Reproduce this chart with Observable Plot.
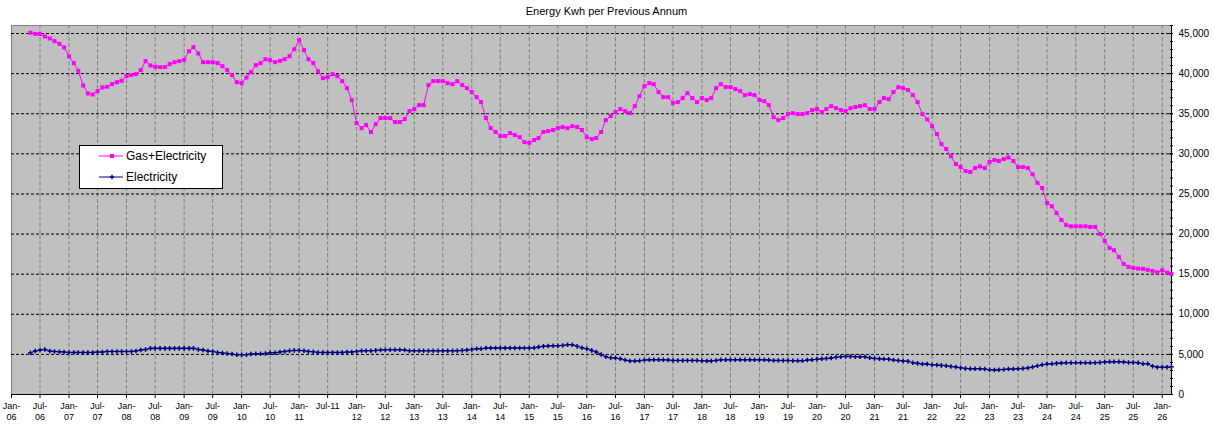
<!DOCTYPE html>
<html><head><meta charset="utf-8">
<script src="https://cdn.jsdelivr.net/npm/d3@7"></script>
<script src="https://cdn.jsdelivr.net/npm/@observablehq/plot@0.6"></script>
<style>
body{margin:0;background:#fff;font-family:"Liberation Sans",Arial,sans-serif;}
#wrap{position:relative;width:1213px;height:428px;}
#title{position:absolute;top:4px;left:0;width:1213px;text-align:center;font-size:11px;line-height:14px;color:#000;}
#legend{position:absolute;left:79px;top:145px;width:142px;height:42px;border:1px solid #000;background:#fff;}
.row{position:absolute;left:19px;height:14px;display:flex;align-items:center;font-size:12px;color:#000;white-space:nowrap;}
.row svg{margin-right:3px;}
</style>
</head><body>
<div id="wrap">
<div id="chart"></div>
<div id="title">Energy Kwh per Previous Annum</div>
<div id="legend">
  <div class="row" style="top:3px"><svg width="24" height="10"><line x1="0" y1="5" x2="24" y2="5" stroke="#ff00ff" stroke-width="1"/><rect x="11" y="3" width="4" height="4" fill="#ff00ff"/></svg>Gas+Electricity</div>
  <div class="row" style="top:24px"><svg width="24" height="10"><line x1="0" y1="5" x2="24" y2="5" stroke="#000080" stroke-width="1"/><path d="M12.3,2.8h1.4v1.5h1.5v1.4h-1.5v1.5h-1.4v-1.5h-1.5v-1.4h1.5z" fill="#000080"/></svg>Electricity</div>
</div>
</div>
<script>
// Monthly series, first value = May 2006, last value = Mar 2026
const startYear = 2006, startMonth = 4; // May (0-based)
const gasElectricity = [
  // 2006 May-Dec
  45100, 44950, 44950, 44630, 44380, 44050, 43710, 43260,
  // 2007
  42180, 41300, 40350, 38530, 37530, 37400, 37820, 38280, 38360, 38690, 38940, 39110,
  // 2008
  39690, 39810, 39940, 40440, 41560, 41020, 40850, 40810, 40810, 41180, 41430, 41560,
  // 2009
  41720, 42800, 43300, 42510, 41430, 41430, 41430, 41310, 40930, 40440, 39810, 38940,
  // 2010
  38820, 39520, 40190, 41060, 41310, 41800, 41680, 41430, 41600, 41800, 42180, 43050,
  // 2011
  44170, 42930, 41800, 41310, 40310, 39440, 39560, 39940, 39690, 39070, 38190, 36700,
  // 2012
  33840, 33210, 33590, 32720, 33710, 34460, 34460, 34460, 33960, 33960, 34330, 35330,
  // 2013
  35580, 36080, 36080, 38570, 39070, 39070, 39070, 38820, 38690, 39070, 38570, 38190,
  // 2014
  37700, 37070, 36450, 34460, 33210, 32720, 32220, 32220, 32590, 32340, 32090, 31470,
  // 2015
  31350, 31720, 31970, 32720, 32840, 32970, 33210, 33340, 33210, 33460, 33340, 32970,
  // 2016
  32090, 31840, 31970, 32720, 34210, 34710, 35210, 35580, 35330, 35080, 35950, 37200,
  // 2017
  38440, 38820, 38690, 37700, 37070, 37070, 36330, 36450, 36950, 37570, 36950, 36450,
  // 2018
  36950, 36700, 36950, 38190, 38690, 38320, 38320, 38070, 37820, 37320, 37450, 37320,
  // 2019
  36700, 36570, 36080, 34580, 34210, 34460, 34960, 35080, 34960, 34960, 35080, 35450,
  // 2020
  35580, 35210, 35580, 35950, 35700, 35450, 35330, 35700, 35830, 35950, 36080, 35580,
  // 2021
  35580, 36450, 36950, 36820, 37700, 38320, 38190, 37950, 37320, 36450, 34960, 34290,
  // 2022
  33460, 32470, 31220, 30600, 29690, 28730, 28360, 27860, 27740, 28230, 28440, 28230,
  // 2023
  28980, 29230, 29110, 29350, 29560, 29110, 28360, 28360, 28230, 27450, 26370, 25740,
  // 2024
  23870, 23460, 22630, 21760, 21140, 20970, 20970, 20970, 20970, 20890, 20890, 20020,
  // 2025
  19150, 18270, 17980, 17150, 16280, 15910, 15780, 15700, 15660, 15540, 15410, 15240,
  // 2026 Jan-Mar
  15490, 15200, 15040
];
const electricity = [
  // 2006 May-Dec
  5210, 5420, 5540, 5620, 5420, 5370, 5330, 5290,
  // 2007
  5250, 5250, 5250, 5250, 5250, 5250, 5290, 5290, 5370, 5370, 5370, 5370,
  // 2008
  5370, 5370, 5420, 5540, 5620, 5750, 5750, 5750, 5750, 5750, 5750, 5750,
  // 2009
  5750, 5750, 5750, 5620, 5540, 5420, 5370, 5250, 5170, 5120, 5040, 4960,
  // 2010
  4960, 4960, 5040, 5080, 5080, 5120, 5210, 5210, 5290, 5370, 5460, 5500,
  // 2011
  5500, 5460, 5370, 5330, 5250, 5250, 5250, 5250, 5250, 5250, 5290, 5290,
  // 2012
  5370, 5460, 5460, 5460, 5500, 5540, 5580, 5580, 5580, 5580, 5540, 5460,
  // 2013
  5460, 5460, 5460, 5460, 5460, 5460, 5460, 5460, 5460, 5460, 5500, 5540,
  // 2014
  5620, 5710, 5710, 5790, 5790, 5790, 5790, 5790, 5790, 5790, 5790, 5790,
  // 2015
  5790, 5830, 5920, 6000, 6040, 6080, 6080, 6120, 6210, 6210, 6000, 5830,
  // 2016
  5710, 5500, 5290, 5000, 4710, 4580, 4540, 4460, 4290, 4170, 4170, 4210,
  // 2017
  4290, 4330, 4330, 4330, 4330, 4290, 4250, 4250, 4250, 4250, 4250, 4250,
  // 2018
  4210, 4170, 4170, 4250, 4330, 4330, 4330, 4330, 4330, 4330, 4330, 4330,
  // 2019
  4330, 4330, 4290, 4250, 4250, 4250, 4250, 4210, 4210, 4210, 4290, 4330,
  // 2020
  4380, 4460, 4500, 4540, 4630, 4710, 4750, 4750, 4710, 4710, 4710, 4580,
  // 2021
  4500, 4460, 4420, 4380, 4290, 4250, 4170, 4130, 3960, 3880, 3790, 3790,
  // 2022
  3710, 3670, 3630, 3580, 3500, 3420, 3340, 3250, 3210, 3210, 3210, 3170,
  // 2023
  3080, 3040, 3080, 3120, 3170, 3170, 3210, 3250, 3290, 3420, 3580, 3710,
  // 2024
  3790, 3830, 3880, 3920, 3960, 3960, 3960, 3960, 3960, 3960, 3960, 4000,
  // 2025
  4040, 4080, 4080, 4080, 4040, 4000, 4000, 3960, 3830, 3830, 3530, 3410,
  // 2026 Jan-Mar
  3410, 3410, 3450
];
const xTickLabels = [
  "Jan-\n06","Jul-\n06","Jan-\n07","Jul-\n07","Jan-\n08","Jul-\n08","Jan-\n09","Jul-\n09",
  "Jan-\n10","Jul-\n10","Jan-\n11","Jul-11","Jan-\n12","Jul-\n12","Jan-\n13","Jul-\n13",
  "Jan-\n14","Jul-\n14","Jan-\n15","Jul-\n15","Jan-\n16","Jul-\n16","Jan-\n17","Jul-\n17",
  "Jan-\n18","Jul-\n18","Jan-\n19","Jul-\n19","Jan-\n20","Jul-\n20","Jan-\n21","Jul-\n21",
  "Jan-\n22","Jul-\n22","Jan-\n23","Jul-\n23","Jan-\n24","Jul-\n24","Jan-\n25","Jul-\n25",
  "Jan-\n26"
];
const yTicks = [0, 5000, 10000, 15000, 20000, 25000, 30000, 35000, 40000, 45000];
const yMinorTicks = d3.range(0, 46001, 1000);

const monthDate = i => new Date(Date.UTC(startYear, startMonth + i, 1));
const gasData = gasElectricity.map((v, i) => ({date: monthDate(i), value: v}));
const elecData = electricity.map((v, i) => ({date: monthDate(i), value: v}));
const xTicks = xTickLabels.map((_, i) => new Date(Date.UTC(2006, i * 6, 1)));
const labelMap = new Map(xTicks.map((d, i) => [+d, xTickLabels[i]]));
const xStart = new Date(Date.UTC(2006, 0, 1));
const xEnd = new Date(Date.UTC(2026, 2, 1));

const chart = Plot.plot({
  width: 1213,
  height: 428,
  marginLeft: 11,
  marginRight: 42,
  marginTop: 25,
  marginBottom: 34,
  style: {background: "white", fontFamily: "Liberation Sans, Arial, sans-serif", overflow: "visible", color: "black"},
  x: {type: "utc", domain: [xStart, xEnd]},
  y: {domain: [0, 46000]},
  marks: [
    Plot.frame({fill: "#c0c0c0", stroke: "#808080"}),
    Plot.gridX(xTicks, {stroke: "#808080", strokeOpacity: 1, strokeDasharray: "4,2"}),
    Plot.gridY(yTicks.filter(v => v > 0), {stroke: "black", strokeOpacity: 1, strokeDasharray: "3,2"}),
    Plot.ruleY([0], {stroke: "black"}),
    Plot.ruleX([xEnd], {stroke: "black"}),
    Plot.axisX({ticks: xTicks, tickFormat: d => labelMap.get(+d), tickSize: 4, tickPadding: 2, fontSize: 9, lineHeight: 1.25, label: null}),
    Plot.axisY({anchor: "right", ticks: yMinorTicks, tickSize: 3, dx: -2, tickFormat: () => "", label: null}),
    Plot.axisY({anchor: "right", ticks: yTicks, tickSize: 4, dx: -3, tickFormat: () => "", label: null}),
    Plot.axisY({anchor: "right", ticks: yTicks, tickSize: 0, tickPadding: 7, tickFormat: d3.format(","), fontSize: 10, label: null}),
    Plot.line(gasData, {x: "date", y: "value", stroke: "#ff00ff", strokeWidth: 1}),
    Plot.dot(gasData, {x: "date", y: "value", symbol: "square", fill: "#ff00ff", stroke: null, r: 2.26}),
    Plot.line(elecData, {x: "date", y: "value", stroke: "#000080", strokeWidth: 1}),
    Plot.dot(elecData, {x: "date", y: "value", symbol: "cross", fill: "#000080", stroke: null, r: 1.9})
  ]
});
document.getElementById("chart").appendChild(chart);
</script>
</body></html>
